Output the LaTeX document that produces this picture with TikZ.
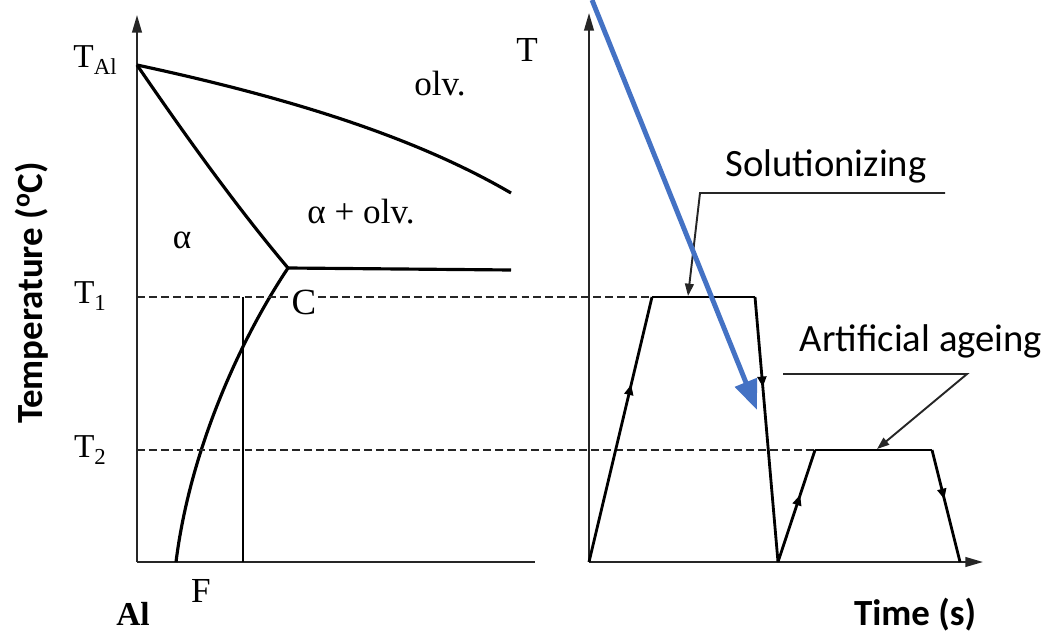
\documentclass[tikz,border=0pt]{standalone}
\usepackage{fontspec}
\setmainfont{Liberation Serif}
\newfontfamily\calib{Carlito}
\usetikzlibrary{arrows.meta,positioning,calc,decorations.markings}
\definecolor{callout}{RGB}{68,114,196}
\newcommand{\lowsub}[1]{\raisebox{-0.45ex}{\fontsize{13}{15}\selectfont #1}}
\tikzset{
  axis/.style={-{Triangle[length=10pt, width=5.5pt]}, line width=1.1pt, draw=black!85},
  phase/.style={line width=1.8pt, draw=black},
  heat/.style={line width=1.6pt, draw=black},
  level/.style={line width=1.3pt, draw=black!85, dash pattern=on 4.5pt off 2.3pt},
  leader/.style={-{Triangle[length=7pt, width=5pt]}, line width=1.1pt, draw=black!85},
  midarrow/.style={postaction={decorate}, decoration={markings,
      mark=at position #1 with {\arrow{Triangle[length=6pt, width=5pt]}}}},
  pointer/.style={-{Triangle[length=17pt, width=13pt]}, line width=2.8pt, draw=callout},
  lbl/.style={font=\fontsize{20}{24}\selectfont, inner sep=1pt},
  tlbl/.style={font=\fontsize{19}{23}\selectfont, inner sep=1pt},
  note/.style={font=\calib\fontsize{22}{26}\selectfont, inner sep=0pt},
  axtitle/.style={font=\calib\bfseries\fontsize{21}{25}\selectfont, inner sep=0pt}
}

\begin{document}
\begin{tikzpicture}[x=0.02cm, y=-0.02cm]
  \useasboundingbox (0,0) rectangle (1050,634);

  % phase diagram
  \coordinate (o1) at (137,562);
  \coordinate (top1) at (137,15);
  \coordinate (end1) at (535,562);
  \coordinate (tal) at (137,65);
  \coordinate (liq) at (511,193);
  \coordinate (eu) at (288,268);
  \coordinate (eur) at (511,270);
  \coordinate (sv) at (176,562);
  \coordinate (cx) at (243,297);
  \coordinate (cxb) at (243,562);
  \draw[axis] (o1) -- (top1);
  \draw[line width=1.1pt, draw=black!85] (o1) -- (end1);
  \draw[phase] (tal) .. controls (300,100) and (420,140) .. (liq);
  \draw[phase] (tal) .. controls (185,135) and (235,205) .. (eu);
  \draw[phase] (eu) -- (eur);
  \draw[phase] (eu) .. controls (240,340) and (190,450) .. (sv);
  \draw[line width=1.1pt] (cx) -- (cxb);

  \node[tlbl] (tAl) at (95,60) {T\lowsub{Al}};
  \node[tlbl] (tOne) at (90,296) {T\lowsub{1}};
  \node[tlbl] (tTwo) at (90,450) {T\lowsub{2}};
  \node[lbl] (olv) at (440,84) {olv.};
  \node[lbl] (aolv) at (361,212) {α + olv.};
  \node[lbl] (alpha) at (182,240) {α};
  \node[lbl, font=\fontsize{21}{25}\selectfont] (c) at (304,302) {C};
  \node[lbl] (f) at (201,591) {F};
  \node[lbl, font=\bfseries\fontsize{19}{23}\selectfont] (al) at (133,614) {Al};
  \node[axtitle, rotate=90] (temp) at (32,293) {Temperature (\textsuperscript{o}C)};

  % heat treatment
  \coordinate (o2) at (589,562);
  \coordinate (top2) at (589,13);
  \coordinate (end2) at (983,562);
  \coordinate (a1) at (652,297);
  \coordinate (a2) at (755,297);
  \coordinate (q) at (778,562);
  \coordinate (b1) at (815,450);
  \coordinate (b2) at (932,450);
  \coordinate (b3) at (960,562);
  \draw[axis] (o2) -- (top2);
  \draw[axis] (o2) -- (end2);
  \node[lbl] (tt) at (527,50) {T};

  \draw[level] (tal |- a1) -- (tal |- a1 -| c.west);
  \draw[level] (c.east |- a1) -- (a1);
  \draw[level] (tal |- b1) -- (b1);

  \draw[heat, midarrow=0.67] (o2) -- (a1);
  \draw[heat] (a1) -- (a2);
  \draw[heat, midarrow=0.34] (a2) -- (q);
  \draw[heat, midarrow=0.6] (q) -- (b1);
  \draw[heat] (b1) -- (b2);
  \draw[heat, midarrow=0.44] (b2) -- (b3);

  \coordinate (s1) at (945,193);
  \coordinate (s2) at (700,193);
  \coordinate (s3) at (688,296);
  \draw[leader] (s1) -- (s2) -- (s3);
  \node[note, anchor=base] (sol) at (826,177) {Solutionizing};

  \coordinate (g1) at (783,374);
  \coordinate (g2) at (967,374);
  \coordinate (g3) at (877,449);
  \draw[leader] (g1) -- (g2) -- (g3);
  \node[note, anchor=base] (age) at (921,352) {Artificial ageing};

  \node[axtitle, anchor=base] (time) at (915,625) {Time (s)};

  % callout arrow
  \coordinate (pstart) at (592,0);
  \coordinate (ptip) at (757,410);
  \draw[pointer] (pstart) -- (ptip);
\end{tikzpicture}
\end{document}
